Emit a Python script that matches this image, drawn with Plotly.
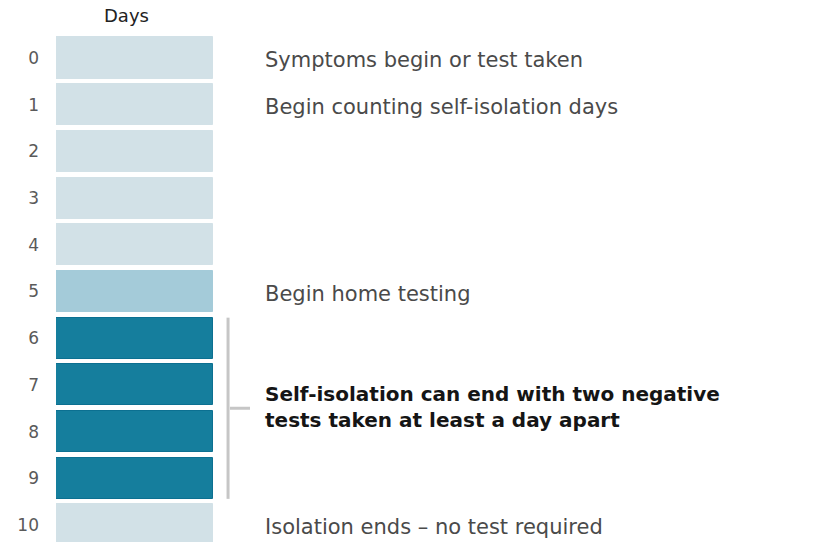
import plotly.graph_objects as go

# ---- data ----
days = list(range(11))
day_labels = [str(d) for d in days]
stage = ["isolation"] * 5 + ["home testing"] + ["testing window"] * 4 + ["isolation ends"]
stage_colors = {
    "isolation": "#d2e1e7",
    "home testing": "#a4cbd9",
    "testing window": "#157e9d",
    "isolation ends": "#d2e1e7",
}
stage_line = {
    "isolation": "#d2e1e7",
    "home testing": "#a4cbd9",
    "testing window": "#0c7091",
    "isolation ends": "#d2e1e7",
}
note_days = [0, 1, 5, 10]
note_texts = [
    "Symptoms begin or test taken",
    "Begin counting self-isolation days",
    "Begin home testing",
    "Isolation ends \u2013 no test required",
]
bracket_lines = ["Self-isolation can end with two negative",
                 "tests taken at least a day apart"]
bracket_days = [6, 9]
axis_title = "Days"

# ---- figure ----
fig = go.Figure()
fig.add_trace(go.Bar(
    y=days,
    x=[1] * len(days),
    orientation="h",
    width=0.88,
    marker=dict(color=[stage_colors[s] for s in stage],
                line=dict(color=[stage_line[s] for s in stage], width=1)),
    hoverinfo="skip",
    showlegend=False,
))

annotations = []
for d, t in zip(note_days, note_texts):
    annotations.append(dict(
        x=1.318, y=d, xref="x", yref="y", text=t, showarrow=False,
        xanchor="left", yanchor="middle", yshift=-2,
        font=dict(family="DejaVu Sans", size=21, color="#4a4a4a"),
    ))
mid = (bracket_days[0] + bracket_days[1]) / 2
annotations.append(dict(
    x=1.318, y=mid, xref="x", yref="y",
    text="<br>".join("<b>" + line + "</b>" for line in bracket_lines),
    showarrow=False, xanchor="left", yanchor="middle", align="left",
    yshift=1,
    font=dict(family="DejaVu Sans", size=20, color="#151515"),
))
annotations.append(dict(
    x=0.446, y=1, xref="x", yref="paper", text=axis_title, showarrow=False,
    xanchor="center", yanchor="bottom", yshift=2,
    font=dict(family="DejaVu Sans", size=18, color="#222222"),
))

lo = bracket_days[0] - 0.44
hi = bracket_days[1] + 0.44
shapes = [
    dict(type="line", xref="x", yref="y", x0=1.096, x1=1.096, y0=lo, y1=hi,
         line=dict(color="#c6c6c6", width=3)),
    dict(type="line", xref="x", yref="y", x0=1.108, x1=1.236, y0=mid, y1=mid,
         line=dict(color="#c6c6c6", width=3)),
]

fig.update_layout(
    width=818, height=542,
    margin=dict(l=56, r=0, t=30, b=0, autoexpand=False),
    plot_bgcolor="white", paper_bgcolor="white",
    xaxis=dict(range=[0, 4.854], visible=False, fixedrange=True, automargin=False),
    yaxis=dict(range=[10.364, -0.6], tickmode="array", tickvals=days,
               ticktext=day_labels, showgrid=False, zeroline=False,
               showline=False, ticks="", ticklabelstandoff=16, automargin=False,
               fixedrange=True,
               tickfont=dict(family="DejaVu Sans", size=17, color="#5a5a5a")),
    annotations=annotations,
    shapes=shapes,
    bargap=0,
)

fig.write_html("out.html", config={"displayModeBar": False},
               post_script="document.body.style.margin='0px';document.body.style.overflow='hidden';")
